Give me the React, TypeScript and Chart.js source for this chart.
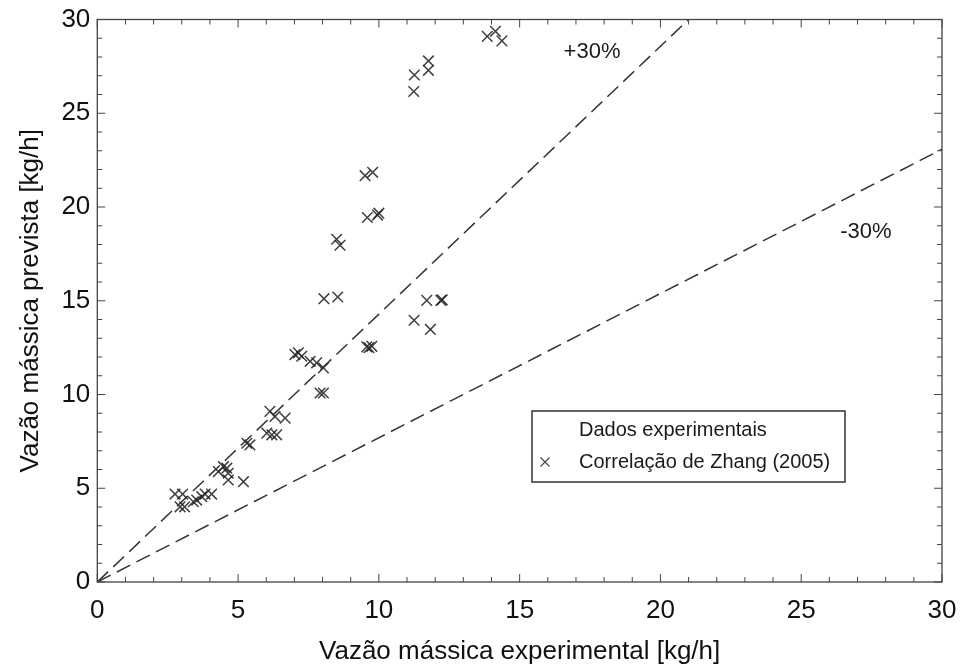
import React, { useEffect, useRef } from "react";
import { Chart, registerables } from "chart.js";

Chart.register(...registerables);

// Data: experimental mass flow (x) vs predicted (y), kg/h
const expX = [
  13.85, 14.14, 14.37, 11.26, 11.76, 11.76, 11.24,
  9.51, 9.78, 9.59, 9.95, 10.0, 8.5, 8.62,
  8.05, 8.54, 11.7, 12.2, 12.25, 11.25, 11.83,
  9.57, 9.75, 9.65,
  7.02, 7.14, 7.26, 7.56, 7.79, 8.03, 7.91, 8.03,
  6.13, 6.31, 6.67, 6.02, 6.2, 6.37, 5.31, 5.42,
  2.76, 3.03, 2.94, 3.1, 3.41, 3.53, 3.71, 3.83, 4.06,
  4.3, 4.48, 4.6, 4.65, 4.65, 5.19,
];
const predY = [
  29.1, 29.37, 28.86, 27.04, 27.79, 27.29, 26.16,
  21.67, 21.85, 19.44, 19.57, 19.67, 18.28, 17.96,
  15.11, 15.2, 15.02, 15.02, 15.05, 13.96, 13.47,
  12.54, 12.57, 12.5,
  12.13, 12.22, 12.04, 11.77, 11.69, 11.42, 10.08, 10.08,
  9.1, 8.83, 8.74, 7.94, 7.85, 7.85, 7.4, 7.31,
  4.69, 4.69, 4.01, 4.01, 4.28, 4.37, 4.55, 4.69, 4.69,
  5.89, 6.15, 6.07, 5.8, 5.44, 5.35,
];

// +30% and -30% error bounds
const plus30X = [0, 21];
const plus30Y = [0, 30];
const minus30X = [0, 30];
const minus30Y = [0, 23.08];

const axisMin = 0;
const axisMax = 30;
const majorStep = 5;

const xTitle = "Vazão mássica experimental [kg/h]";
const yTitle = "Vazão mássica prevista [kg/h]";
const legendLabels = ["Dados experimentais", "Correlação de Zhang (2005)"];
const bandLabels = ["+30%", "-30%"];
const bandLabelPos = [
  { x: 17.57, y: 28.29 },
  { x: 27.3, y: 18.66 },
];

const FONT = "'Liberation Sans', Arial, sans-serif";

const decorPlugin = {
  id: "decor",
  afterDatasetsDraw(chart: any) {
    const { ctx, chartArea: a, scales } = chart;
    const xs = scales.x;
    const ys = scales.y;
    ctx.save();
    // frame
    ctx.strokeStyle = "#444";
    ctx.lineWidth = 1.3;
    ctx.strokeRect(a.left, a.top, a.right - a.left, a.bottom - a.top);
    // inner ticks on all four sides
    ctx.lineWidth = 1;
    ctx.strokeStyle = "#444";
    ctx.beginPath();
    for (let v = axisMin; v <= axisMax; v++) {
      const len = v % majorStep === 0 ? 8 : 5;
      const px = xs.getPixelForValue(v);
      ctx.moveTo(px, a.bottom);
      ctx.lineTo(px, a.bottom - len);
      ctx.moveTo(px, a.top);
      ctx.lineTo(px, a.top + len);
      const py = ys.getPixelForValue(v);
      ctx.moveTo(a.left, py);
      ctx.lineTo(a.left + len, py);
      ctx.moveTo(a.right, py);
      ctx.lineTo(a.right - len, py);
    }
    ctx.stroke();

    // band labels
    ctx.fillStyle = "#1a1a1a";
    ctx.font = `22px ${FONT}`;
    ctx.textAlign = "center";
    ctx.textBaseline = "middle";
    bandLabels.forEach((t, i) => {
      ctx.fillText(t, xs.getPixelForValue(bandLabelPos[i].x), ys.getPixelForValue(bandLabelPos[i].y));
    });

    // legend box
    const lx = 532, ly = 411, lw = 313, lh = 71;
    ctx.fillStyle = "#fff";
    ctx.fillRect(lx, ly, lw, lh);
    ctx.strokeStyle = "#333";
    ctx.lineWidth = 1.5;
    ctx.strokeRect(lx, ly, lw, lh);
    ctx.fillStyle = "#1a1a1a";
    ctx.font = `20px ${FONT}`;
    ctx.textAlign = "left";
    ctx.textBaseline = "middle";
    ctx.fillText(legendLabels[0], 579, 430);
    ctx.fillText(legendLabels[1], 579, 462);
    // cross marker for second entry
    ctx.strokeStyle = "#444";
    ctx.lineWidth = 1.1;
    ctx.beginPath();
    const cx = 545, cy = 462, r = 4.5;
    ctx.moveTo(cx - r, cy - r);
    ctx.lineTo(cx + r, cy + r);
    ctx.moveTo(cx - r, cy + r);
    ctx.lineTo(cx + r, cy - r);
    ctx.stroke();
    ctx.restore();
  },
};

export default function App() {
  const ref = useRef<HTMLCanvasElement | null>(null);

  useEffect(() => {
    if (!ref.current) return;
    const points = expX.map((x, i) => ({ x, y: predY[i] }));
    const plus = plus30X.map((x, i) => ({ x, y: plus30Y[i] }));
    const minus = minus30X.map((x, i) => ({ x, y: minus30Y[i] }));
    const chart = new Chart(ref.current, {
      type: "scatter",
      data: {
        datasets: [
          {
            label: "+30%",
            data: plus,
            showLine: true,
            borderColor: "#333",
            borderWidth: 1.5,
            borderDash: [15, 7],
            pointRadius: 0,
            fill: false,
          },
          {
            label: "-30%",
            data: minus,
            showLine: true,
            borderColor: "#333",
            borderWidth: 1.5,
            borderDash: [15, 7],
            pointRadius: 0,
            fill: false,
          },
          {
            label: legendLabels[1],
            data: points,
            pointStyle: "crossRot",
            pointRadius: 7.5,
            borderColor: "rgba(30,30,30,0.85)",
            borderWidth: 1.5,
            backgroundColor: "transparent",
          },
        ],
      },
      options: {
        responsive: false,
        animation: false,
        layout: { padding: { top: 19.5, right: 20, left: 0, bottom: 0 } },
        plugins: {
          legend: { display: false },
          tooltip: { enabled: false },
        },
        scales: {
          x: {
            type: "linear",
            min: axisMin,
            max: axisMax,
            grid: { display: false, drawTicks: false },
            border: { display: false },
            ticks: {
              stepSize: majorStep,
              color: "#111",
              padding: 13,
              font: { family: FONT, size: 26 },
            },
            title: {
              display: true,
              text: xTitle,
              color: "#111",
              font: { family: FONT, size: 26 },
              padding: { top: 0, bottom: 3 },
            },
            afterFit: (s: any) => {
              s.height = 88;
              s.paddingLeft = 0;
              s.paddingRight = 0;
            },
          },
          y: {
            type: "linear",
            min: axisMin,
            max: axisMax,
            grid: { display: false, drawTicks: false },
            border: { display: false },
            ticks: {
              stepSize: majorStep,
              color: "#111",
              padding: 7,
              font: { family: FONT, size: 26 },
            },
            title: {
              display: true,
              text: yTitle,
              color: "#111",
              font: { family: FONT, size: 26 },
              padding: { top: 15, bottom: 0 },
            },
            afterFit: (s: any) => {
              s.width = 97.3;
              s.paddingTop = 0;
              s.paddingBottom = 0;
            },
          },
        },
      },
      plugins: [decorPlugin],
    });
    return () => chart.destroy();
  }, []);

  return (
    <div style={{ position: "fixed", left: 0, top: 0, width: 962, height: 670, background: "#fff" }}>
      <canvas ref={ref} width={962} height={670} />
    </div>
  );
}
